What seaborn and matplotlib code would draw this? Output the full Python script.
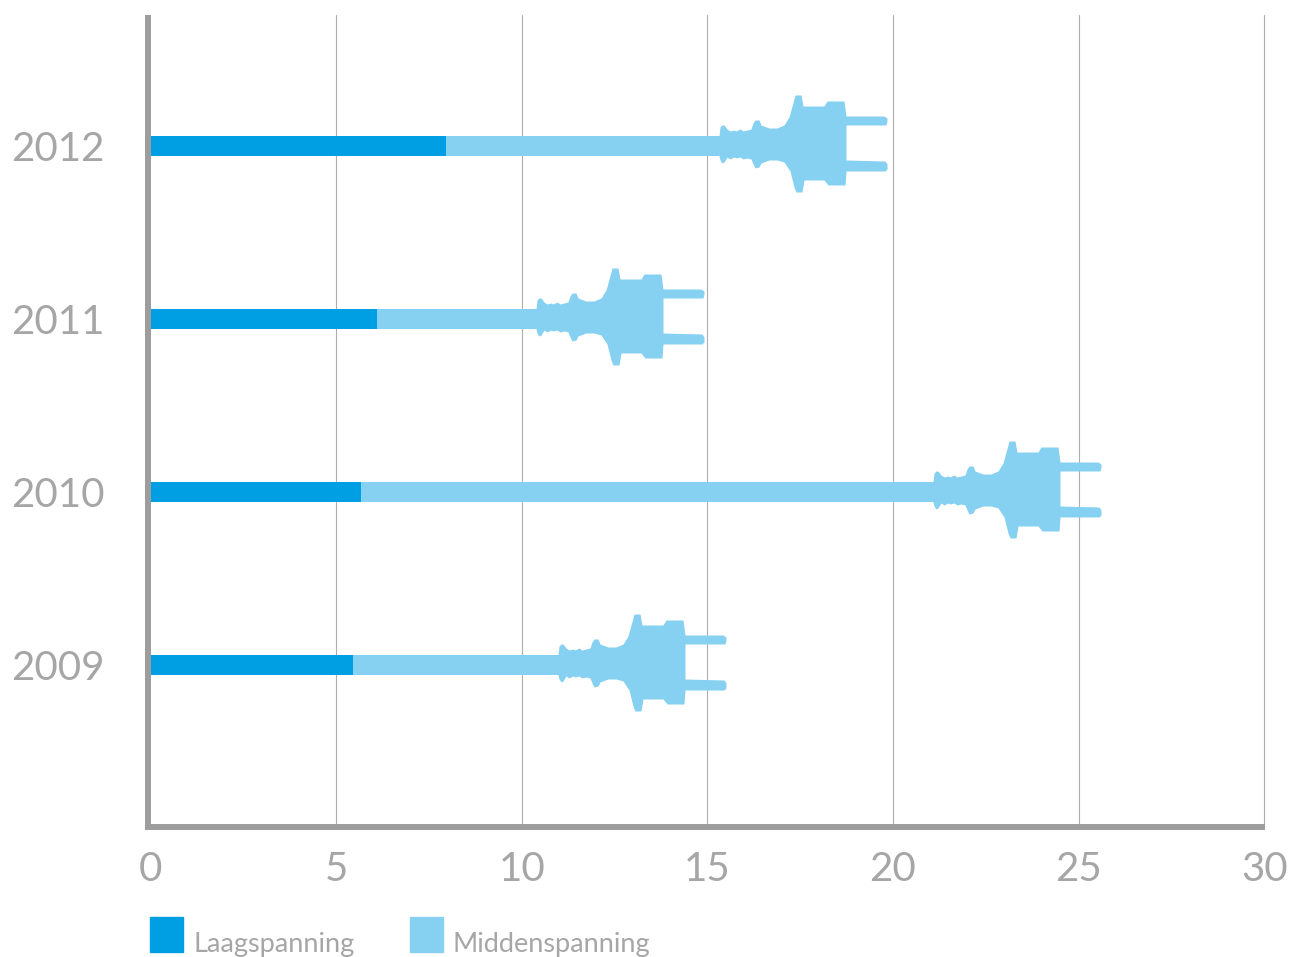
import numpy as np
import pandas as pd
import seaborn as sns
import matplotlib.pyplot as plt
from matplotlib.patches import Patch
from matplotlib.path import Path

years = ['2012', '2011', '2010', '2009']
laagspanning = [7.97, 6.1, 5.68, 5.45]
totaal = [19.85, 14.9, 25.6, 15.5]
xticks = [0, 5, 10, 15, 20, 25, 30]

DARK = '#009fe3'
LIGHT = '#86d0f1'
GREY = '#9d9d9d'
TEXT = '#a6a6a6'

# the light bar stops inside the plug body, the pins carry on to the total
PINS = 1.5

# plug outline traced in pixels, origin at the tip of the pins
plug_top = [(-168, 10), (-167, 19), (-165, 21), (-163, 21), (-160, 17), (-157, 15),
            (-153, 16), (-151, 15), (-147, 17), (-144, 15), (-140, 16), (-136, 17),
            (-134, 23), (-132, 26), (-128, 26), (-126, 21), (-118, 18), (-110, 18),
            (-103, 21), (-98, 29), (-93, 47), (-92, 51), (-86, 51), (-84, 40),
            (-63, 40), (-60, 45), (-43, 45), (-41, 30), (-3, 30), (0, 28), (0, 25), (-1, 21),
            (-41, 21)]
plug_bottom = [(-41, -14), (-2, -15), (0, -18), (0, -23), (-2, -25), (-41, -25),
               (-42, -39), (-59, -39), (-63, -34), (-83, -34), (-85, -46), (-91, -46),
               (-93, -41), (-97, -25), (-103, -16), (-110, -14), (-118, -14), (-126, -17),
               (-128, -21), (-132, -22), (-134, -18), (-136, -13), (-140, -12), (-144, -13),
               (-147, -11), (-151, -12), (-153, -11), (-157, -13), (-160, -11), (-163, -16),
               (-165, -17), (-167, -14), (-168, -10)]
plug_xy = np.array(plug_top + plug_bottom + [plug_top[0]], dtype=float)
plug = Path(plug_xy, closed=True)

df = pd.DataFrame({'jaar': years, 'laag': laagspanning, 'totaal': totaal})
df['snoer'] = df['totaal'] - PINS

sns.set_theme(style='white')
plt.rcParams['font.family'] = ['Lato', 'DejaVu Sans']

fig = plt.figure(figsize=(12.93, 9.57), dpi=100)
ax = fig.add_axes([148 / 1293, 1 - 827 / 957, (1266 - 148) / 1293, (827 - 15) / 957])

sns.barplot(data=df, y='jaar', x='snoer', color=LIGHT, saturation=1, width=0.116, linewidth=0, ax=ax)
sns.barplot(data=df, y='jaar', x='laag', color=DARK, saturation=1, width=0.116, linewidth=0, ax=ax)

# plug markers sit at the total of each row
rescale = np.abs(plug_xy).max()
ax.plot(totaal, range(len(years)), linestyle='none', marker=plug, color=LIGHT,
        markersize=2 * rescale * 72 / fig.dpi, markeredgewidth=0, zorder=3)

ax.set_xlim(-0.065, 30.05)
ax.set_ylim(3.936, -0.757)
ax.set_xticks(xticks)
ax.set_xlabel('')
ax.set_ylabel('')

ax.xaxis.grid(True, color='#aeaeae', linewidth=0.8)
ax.set_axisbelow(True)
ax.xaxis.get_gridlines()[0].set_visible(False)

for side in ['top', 'right']:
    ax.spines[side].set_visible(False)
for side in ['left', 'bottom']:
    ax.spines[side].set_color(GREY)
    ax.spines[side].set_linewidth(4.3)
ax.spines['left'].set_bounds(3.936, -0.74)
ax.spines['bottom'].set_bounds(-0.065, 29.95)

ax.tick_params(axis='y', length=0, pad=31, labelsize=29, labelcolor=TEXT)
ax.tick_params(axis='x', length=0, pad=17, labelsize=29, labelcolor=TEXT)

handles = [Patch(color=DARK, label='Laagspanning'), Patch(color=LIGHT, label='Middenspanning')]
leg = fig.legend(handles=handles, loc='lower left', bbox_to_anchor=(150 / 1293, 5 / 957), ncol=2,
                 frameon=False, fontsize=19.5, labelcolor=TEXT, handlelength=1.22, handleheight=1.61,
                 handletextpad=0.37, columnspacing=2.05, borderpad=0, borderaxespad=0)
# legend text hangs lower than the squares
for t in leg.get_texts():
    t.set_y(-9)

fig.savefig('out.png', dpi=100)
